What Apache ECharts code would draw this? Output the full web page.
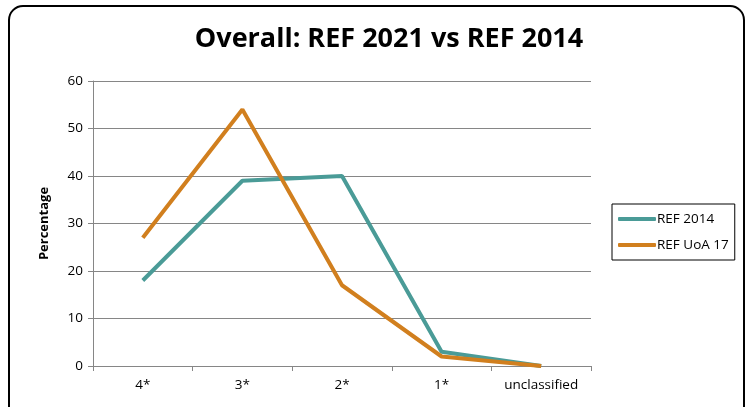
<!DOCTYPE html>
<html><head><meta charset="utf-8">
<script src="https://cdn.jsdelivr.net/npm/echarts@6/dist/echarts.min.js"></script>
<style>html,body{margin:0;padding:0;background:#fff}#c{width:749px;height:407px}</style>
</head><body><div id="c"></div>
<script>
const categories = ['4*', '3*', '2*', '1*', 'unclassified'];
const ref2014 = [18, 39, 40, 3, 0];
const refUoA17 = [27, 54, 17, 2, 0];
const yTicks = { min: 0, max: 60, interval: 10 };

const chart = echarts.init(document.getElementById('c'));
const font = '"Open Sans", "Liberation Sans", sans-serif';
chart.setOption({
  animation: false,
  graphic: [{
    type: 'rect', shape: { x: 9, y: 6, width: 735, height: 420, r: 14 },
    style: { fill: 'none', stroke: '#000', lineWidth: 2 }, z: 0
  }],
  title: {
    text: 'Overall: REF 2021 vs REF 2014', left: 384, top: 21, textAlign: 'center',
    textStyle: { fontFamily: font, fontWeight: 'bold', fontSize: 27, color: '#000' }
  },
  legend: {
    orient: 'vertical', left: 612, top: 204, padding: [8, 6, 8, 6], itemGap: 12,
    borderColor: '#000', borderWidth: 1, itemWidth: 38, itemHeight: 4,
    icon: 'roundRect',
    textStyle: { fontFamily: font, fontSize: 13.5, color: '#000', padding: [0, 0, 0, -4] },
    data: ['REF 2014', 'REF UoA 17']
  },
  grid: { left: 93, right: 158, top: 81, bottom: 41 },
  xAxis: {
    type: 'category', data: categories, boundaryGap: true,
    axisLine: { lineStyle: { color: '#868686', width: 1 } },
    axisTick: { show: true, alignWithLabel: false, length: 5, lineStyle: { color: '#868686' } },
    axisLabel: { fontFamily: font, fontSize: 13.5, color: '#000', margin: 12 }
  },
  yAxis: {
    type: 'value', min: yTicks.min, max: yTicks.max, interval: yTicks.interval,
    name: 'Percentage', nameLocation: 'middle', nameGap: 42, nameRotate: 90,
    nameTextStyle: { fontFamily: font, fontSize: 13, fontWeight: 'bold', color: '#000' },
    axisLine: { show: true, lineStyle: { color: '#868686' } },
    axisTick: { show: true, length: 5, lineStyle: { color: '#868686' } },
    axisLabel: { fontFamily: font, fontSize: 13.5, color: '#000', margin: 10 },
    splitLine: { lineStyle: { color: '#868686', width: 1 } }
  },
  series: [
    { name: 'REF 2014', type: 'line', data: ref2014, symbol: 'none',
      lineStyle: { color: '#4A9B97', width: 4 }, itemStyle: { color: '#4A9B97' } },
    { name: 'REF UoA 17', type: 'line', data: refUoA17, symbol: 'none',
      lineStyle: { color: '#D17F1E', width: 4 }, itemStyle: { color: '#D17F1E' } }
  ]
});
</script></body></html>
